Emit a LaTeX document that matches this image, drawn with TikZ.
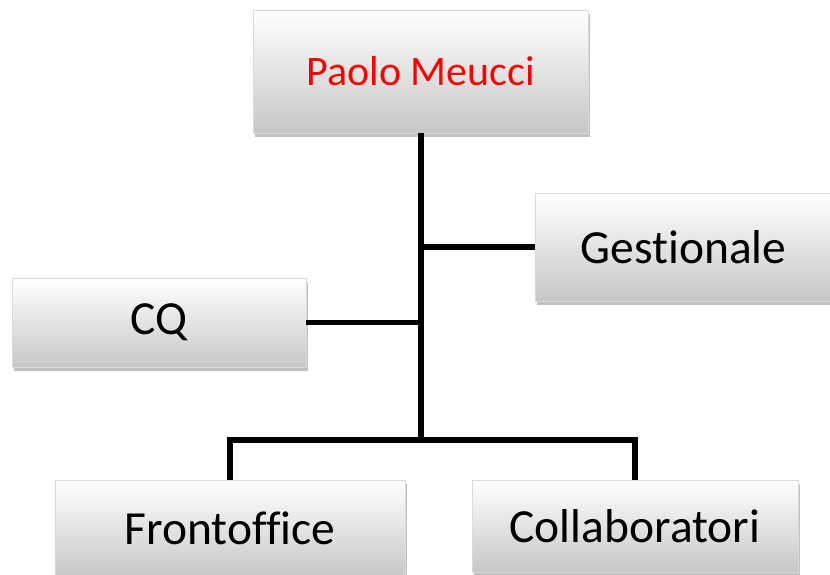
\documentclass[tikz,border=0pt]{standalone}
\usepackage{fontspec}
\setmainfont[Ligatures=NoCommon]{Carlito}
\usetikzlibrary{shadows}
\begin{document}
\begin{tikzpicture}[x=1pt,y=-1pt,
  orgbox/.style={draw=black!14, line width=0.8pt, shading=axis,
    top color=white, middle color=black!6, bottom color=black!22,
    drop shadow={shadow xshift=2pt, shadow yshift=-4pt, opacity=0.35, fill=black!70},
    inner sep=0pt, font=\fontsize{47.5}{56}\selectfont},
  link/.style={line width=5.5pt, black}]
\useasboundingbox (0,0) rectangle (830,575);
\node[orgbox, minimum width=335pt, minimum height=123pt, text=red,
  font=\fontsize{42}{50}\selectfont] (pm) at (420.5,71.5) {Paolo Meucci};
\node[orgbox, minimum width=297pt, minimum height=108pt] (ges) at (683.5,247) {Gestionale};
\node[orgbox, minimum width=294pt, minimum height=89pt] (cq) at (159,322.5) {CQ};
\node[orgbox, minimum width=350pt, minimum height=97pt] (fo) at (230,528.5) {Frontoffice};
\node[orgbox, minimum width=326pt, minimum height=92pt] (co) at (635,526) {Collaboratori};
\coordinate (j) at (421,440);
\draw[link] (pm.south -| j) -- (j);
\draw[link] (ges.west) -- (ges.west -| j);
\draw[link] (cq.east) -- (cq.east -| j);
\draw[link] (fo.north) |- (j) -| (co.north);
\end{tikzpicture}
\end{document}
